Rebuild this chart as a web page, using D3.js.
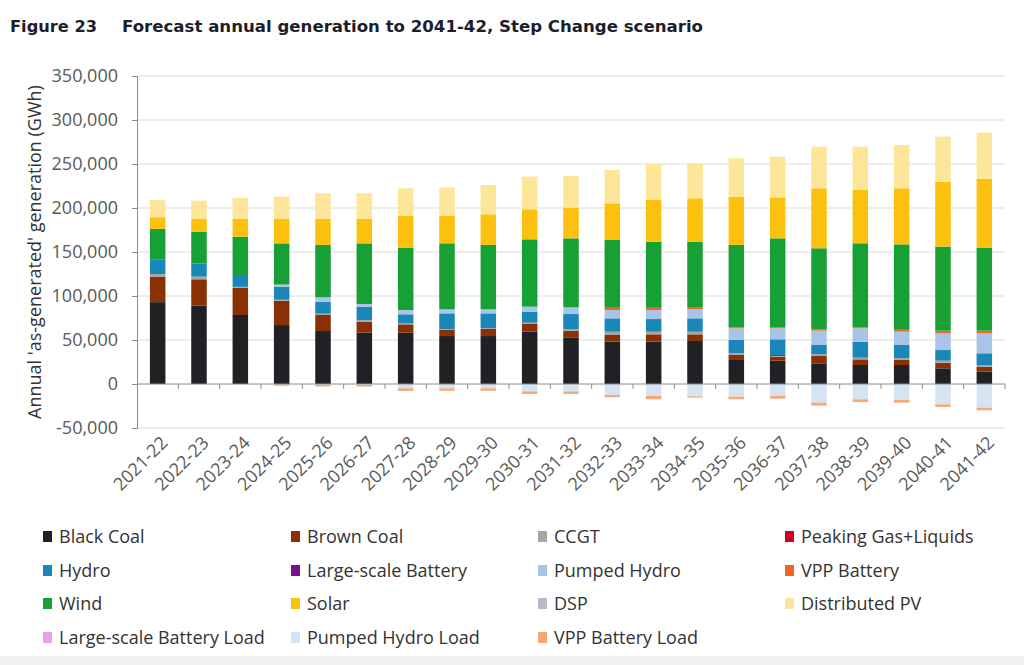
<!DOCTYPE html>
<html><head><meta charset="utf-8">
<script src="https://cdn.jsdelivr.net/npm/d3@7"></script>
<style>
body{margin:0;background:#fff;}
svg{display:block;font-family:'Open Sans',sans-serif;}
</style>
</head><body>
<svg id="chart" width="1024" height="665"></svg>
<script>
const years = ["2021-22","2022-23","2023-24","2024-25","2025-26","2026-27","2027-28","2028-29","2029-30","2030-31","2031-32","2032-33","2033-34","2034-35","2035-36","2036-37","2037-38","2038-39","2039-40","2040-41","2041-42"];

const blackCoal   = [93000,89000,78400,67000,60200,58300,58300,54500,54500,59500,53000,48100,48100,48900,27300,26500,23500,21600,21600,17800,14000];
const brownCoal   = [29000,30000,31000,27700,18200,12500,9500,6900,8000,8700,7600,7600,8300,7500,5700,4600,8300,6400,5700,6400,5700];
const ccgt        = [3000,3000,1000,1000,1500,1500,1000,1000,1000,1500,1500,3700,3000,3000,1900,800,1900,1900,1900,2300,1900];
const peakingGas  = [0,0,0,0,0,0,0,0,0,0,0,0,0,0,0,1100,0,0,0,0,0];
const hydro       = [16800,15000,13500,14900,13600,15600,10400,17900,16800,12500,17400,15200,14400,15200,15100,17800,10600,18200,15100,12100,13300];
const lsBattery   = [0,0,0,0,0,0,0,0,0,0,0,0,0,0,0,0,0,0,0,0,0];
const pumpedHydro = [0,0,0,2400,5000,3000,4900,4600,4600,5700,7600,9500,10300,10300,13300,12500,16300,15200,15200,19000,22700];
const vppBattery  = [0,0,0,0,0,0,0,0,0,0,0,2500,2500,2500,1000,1000,1500,1000,3000,3000,3000];
const wind        = [34400,36000,43500,46800,59500,68900,70800,75000,73100,76500,78400,77000,75100,74300,93700,101200,92100,95600,96200,95500,94300];
const solar       = [13300,14500,20100,27700,29500,27700,36400,31400,34800,34100,34900,41700,47400,49300,54900,46600,68200,60600,63700,73800,78100];
const dsp         = [0,0,0,0,0,0,0,0,0,0,0,0,0,0,0,0,0,0,0,0,0];
const distPV      = [19700,20800,24200,25400,29200,29200,31100,32200,33300,37100,36000,37900,40900,39800,43600,46200,47300,49200,49200,51200,52600];
const lsBatteryLoad   = [0,0,0,0,0,0,0,0,0,0,0,0,0,0,0,0,0,0,0,0,0];
const pumpedHydroLoad = [0,0,0,-500,-1000,-1000,-4900,-4900,-4900,-8400,-8400,-12500,-13600,-14000,-14400,-13600,-21200,-17400,-18200,-23100,-26900];
const vppBatteryLoad  = [0,0,0,-1500,-1800,-2000,-3000,-2700,-2700,-2900,-2900,-2600,-3800,-1500,-3000,-3100,-3400,-3100,-3000,-3000,-3000];

const seriesNames = ["Black Coal","Brown Coal","CCGT","Peaking Gas+Liquids","Hydro","Large-scale Battery","Pumped Hydro","VPP Battery","Wind","Solar","DSP","Distributed PV","Large-scale Battery Load","Pumped Hydro Load","VPP Battery Load"];
const seriesValues = [blackCoal,brownCoal,ccgt,peakingGas,hydro,lsBattery,pumpedHydro,vppBattery,wind,solar,dsp,distPV,lsBatteryLoad,pumpedHydroLoad,vppBatteryLoad];
const seriesColors = ["#1f2124","#8a3005","#a5a5a5","#d2001e","#1b87b8","#7a0f8f","#a8c4e6","#f26522","#17a034","#fcc10f","#b9b9c9","#fde69a","#eaa0e6","#d5e4f3","#f7a877"];
const yTicks = [-50000,0,50000,100000,150000,200000,250000,300000,350000];

const titleFig = "Figure 23";
const titleText = "Forecast annual generation to 2041-42, Step Change scenario";
const yTitle = "Annual 'as-generated' generation (GWh)";

(function(){
const svg = d3.select("#chart");
const mLeft = 137, mRight = 1005, mTop = 76, mBottom = 428;

svg.append("rect").attr("x",0).attr("y",656).attr("width",1024).attr("height",9).attr("fill","#f1f1f1");

svg.append("text").attr("x",10).attr("y",32).attr("font-family","DejaVu Sans").attr("font-weight","bold")
  .attr("font-size",16).attr("fill","#1e1e2a").attr("textLength",87).attr("lengthAdjust","spacingAndGlyphs").text(titleFig);
svg.append("text").attr("x",122).attr("y",32).attr("font-family","DejaVu Sans").attr("font-weight","bold")
  .attr("font-size",16).attr("fill","#1e1e2a").attr("textLength",581).attr("lengthAdjust","spacingAndGlyphs").text(titleText);

const x = d3.scaleBand().domain(years).range([mLeft,mRight]).paddingInner(0.625).paddingOuter(0.3125);
const y = d3.scaleLinear().domain([-50000,350000]).range([mBottom,mTop]);

svg.append("g").selectAll("line").data(yTicks.filter(d=>d!==0)).join("line")
  .attr("x1",mLeft).attr("x2",mRight).attr("y1",d=>y(d)).attr("y2",d=>y(d))
  .attr("stroke","#dcdcdc").attr("stroke-width",1);

const rows = years.map((yr,i)=>{const o={year:yr}; seriesNames.forEach((n,j)=>o[n]=seriesValues[j][i]); return o;});
const stack = d3.stack().keys(seriesNames).offset(d3.stackOffsetDiverging).order(d3.stackOrderNone);
const stacked = stack(rows);
svg.append("g").selectAll("g").data(stacked).join("g")
  .attr("fill",(d,i)=>seriesColors[i])
  .selectAll("rect").data(d=>d.filter(p=>p[1]!==p[0])).join("rect")
  .attr("x",d=>x(d.data.year)).attr("width",x.bandwidth())
  .attr("y",d=>y(Math.max(d[0],d[1]))).attr("height",d=>Math.abs(y(d[0])-y(d[1])));

const fmt = d=>d3.format(",")(d).replace("−","-");
const yAxis = svg.append("g").attr("transform",`translate(${mLeft},0)`)
  .call(d3.axisLeft(y).tickValues(yTicks).tickFormat(fmt).tickSize(5).tickPadding(14));
yAxis.select(".domain").attr("stroke","#8c8c8c");
yAxis.selectAll(".tick line").attr("stroke","#8c8c8c");
yAxis.selectAll("text").attr("font-size",18).attr("fill","#595959").attr("font-family","'Open Sans',sans-serif");

const xAxis = svg.append("g").attr("transform",`translate(0,${y(0)})`).call(d3.axisBottom(x).tickSize(5).tickFormat(""));
xAxis.selectAll(".tick").remove();
xAxis.select(".domain").attr("stroke","#8c8c8c").attr("d",`M${mLeft},0H${mRight}`);
const bounds = years.map((d,i)=>mLeft + (i+1)*x.step());
xAxis.selectAll("line.b").data(bounds).join("line").attr("class","b")
  .attr("x1",d=>d).attr("x2",d=>d).attr("y1",0).attr("y2",5).attr("stroke","#8c8c8c");

svg.append("g").selectAll("text").data(years).join("text")
  .attr("transform",d=>`translate(${x(d)+x.bandwidth()/2+11},${444}) rotate(-45)`)
  .attr("text-anchor","end").attr("font-size",18).attr("fill","#595959").text(d=>d);

svg.append("text").attr("transform",`translate(41,${(mTop+mBottom)/2}) rotate(-90)`)
  .attr("text-anchor","middle").attr("font-size",18).attr("fill","#333").text(yTitle);

const colX = [43,291,538,785], rowY = [537,571,604,638];
const lg = svg.append("g").selectAll("g").data(seriesNames).join("g")
  .attr("transform",(d,i)=>`translate(${colX[i%4]},${rowY[Math.floor(i/4)]})`);
lg.append("rect").attr("x",0).attr("y",-6).attr("width",9).attr("height",11).attr("fill",(d,i)=>seriesColors[i]);
lg.append("text").attr("x",16).attr("y",6).attr("font-size",18).attr("fill","#333").text(d=>d);
})();
</script>
</body></html>
